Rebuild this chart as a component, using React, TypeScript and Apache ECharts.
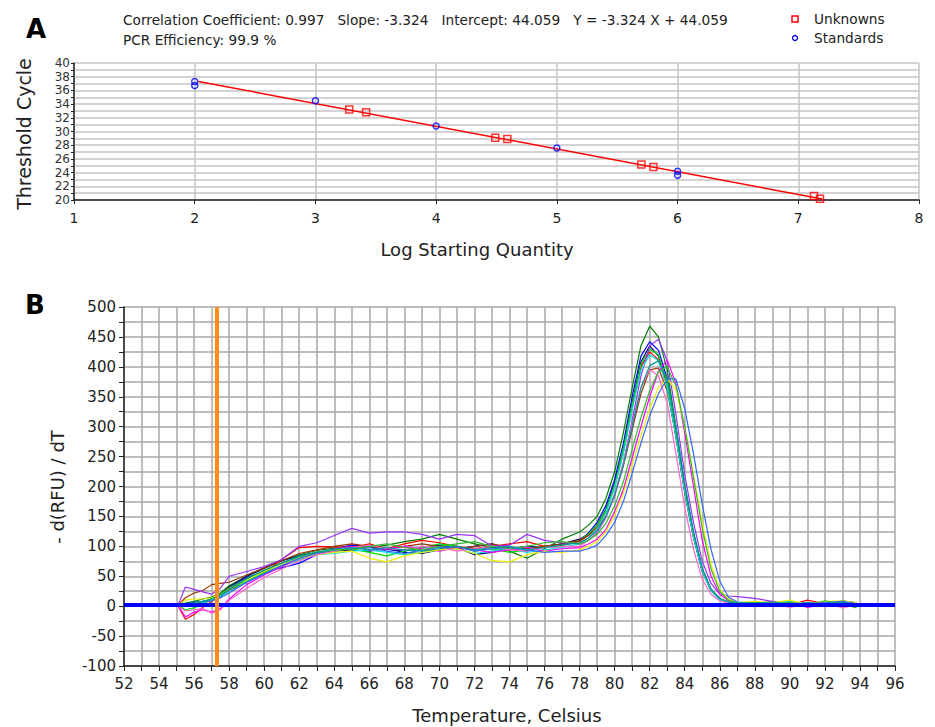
import React, { useEffect, useRef } from "react";
import * as echarts from "echarts";

// ---------- Panel A: standard curve ----------
const stdX = [2, 2, 3, 4, 5, 6, 6];
const stdY = [37.3, 36.7, 34.5, 30.8, 27.6, 24.2, 23.6];
const unkX = [3.28, 3.42, 4.49, 4.59, 5.7, 5.8, 7.13, 7.18];
const unkY = [33.2, 32.8, 29.1, 28.9, 25.2, 24.8, 20.6, 20.2];
const fitX = [2.03, 7.2];
const fitY = [37.31, 20.13];
const headerLine1 = "Correlation Coefficient: 0.997   Slope: -3.324   Intercept: 44.059   Y = -3.324 X + 44.059";
const headerLine2 = "PCR Efficiency: 99.9 %";

// ---------- Panel B: melt curves ----------
const temps = [
  55.1, 55.5, 56, 56.5, 57, 57.5, 58,
  59, 60, 61, 62, 63, 64, 65, 66, 67, 68, 69, 70, 71, 72, 73, 74, 75, 76, 77,
  78, 78.5, 79, 79.5, 80, 80.5, 81, 81.5, 82, 82.5, 83, 83.5, 84, 84.5, 85, 85.5, 86, 86.5, 87,
  88, 89, 90, 91, 92, 93, 93.8,
];

const darkGreen = [
  3, 5, 8, 12, 15, 22, 34,
  50, 63, 76, 86, 93, 97, 100, 98, 102, 108, 112, 120, 112, 104, 98, 92, 80, 96, 112,
  124, 135, 150, 180, 225, 290, 365, 435, 468, 450, 395, 300, 200, 122, 62, 28, 12, 7, 5,
  6, 3, 5, 2, 8, 4, -2,
];
const blue = [
  2, 4, 6, 8, 10, 14, 30,
  48, 58, 64, 72, 86, 96, 102, 100, 95, 92, 98, 102, 96, 100, 104, 96, 92, 100, 104,
  110, 122, 140, 168, 212, 272, 350, 418, 442, 428, 380, 295, 200, 120, 60, 27, 12, 6, 4,
  4, 6, 2, 5, 3, 8, 6,
];
const navy = [
  0, 2, 3, 6, 12, 20, 32,
  50, 64, 76, 84, 90, 92, 94, 92, 96, 90, 88, 94, 98, 86, 90, 96, 100, 98, 104,
  112, 120, 136, 162, 205, 262, 338, 408, 435, 418, 370, 285, 190, 115, 58, 26, 11, 6, 5,
  5, 3, 7, 4, 2, 9, 5,
];
const red = [
  0, -22, -14, -2, 8, 18, 26,
  40, 55, 78, 98, 100, 99, 98, 104, 96, 104, 110, 106, 100, 96, 100, 104, 108, 100, 102,
  108, 118, 132, 158, 200, 258, 332, 400, 425, 412, 368, 282, 190, 116, 58, 26, 12, 6, 4,
  3, 8, 2, 10, 4, 2, 6,
];
const lime = [
  1, -6, -3, 4, 10, 18, 28,
  42, 56, 68, 78, 86, 92, 96, 90, 84, 92, 98, 104, 100, 92, 96, 90, 94, 100, 102,
  110, 120, 136, 160, 202, 262, 336, 404, 430, 420, 374, 290, 196, 118, 60, 27, 12, 6, 4,
  5, 4, 6, 3, 7, 5, 1,
];
const brown = [
  2, 14, 22, 26, 36, 38, 40,
  52, 64, 76, 88, 94, 100, 104, 100, 96, 100, 104, 100, 96, 100, 104, 98, 96, 100, 104,
  110, 118, 130, 150, 185, 235, 295, 355, 395, 398, 360, 285, 195, 118, 60, 27, 12, 7, 5,
  4, 6, 3, 5, 2, 6, 4,
];
const purple = [
  3, 32, 28, 24, 20, 30, 50,
  58, 66, 78, 100, 106, 118, 130, 122, 124, 124, 120, 112, 120, 118, 100, 102, 120, 110, 106,
  104, 110, 122, 148, 185, 240, 310, 385, 435, 446, 410, 320, 220, 140, 75, 38, 20, 17, 16,
  13, 8, 6, 4, 5, 3, 2,
];
const cyan = [
  0, 2, 4, 6, 10, 16, 24,
  40, 54, 66, 78, 86, 88, 92, 94, 90, 86, 90, 94, 96, 88, 92, 96, 90, 94, 98,
  104, 114, 130, 156, 198, 255, 328, 394, 420, 410, 365, 282, 190, 115, 58, 26, 11, 6, 4,
  3, 5, 8, 2, 4, 6, 3,
];
const magenta = [
  0, -18, -10, -6, -10, -4, 12,
  36, 52, 66, 80, 88, 96, 100, 94, 96, 100, 96, 92, 98, 94, 90, 94, 98, 92, 96,
  98, 104, 112, 128, 158, 195, 248, 300, 350, 392, 412, 372, 290, 200, 110, 50, 20, 9, 5,
  4, 2, 6, -2, 3, 5, 1,
];
const yellow = [
  2, 10, 12, 12, 14, 20, 30,
  44, 58, 70, 80, 86, 90, 92, 80, 74, 84, 90, 94, 96, 88, 76, 74, 86, 92, 90,
  94, 100, 108, 124, 152, 188, 236, 285, 330, 365, 380, 362, 300, 220, 140, 70, 28, 12, 6,
  8, 6, 10, 3, 8, 9, 6,
];
const pink = [
  0, -8, -6, -4, -12, -6, 10,
  30, 48, 62, 76, 86, 92, 98, 102, 96, 94, 100, 98, 92, 96, 100, 94, 92, 98, 100,
  100, 110, 124, 148, 188, 240, 305, 365, 395, 385, 340, 255, 165, 95, 45, 20, 9, 5, 3,
  2, 5, -2, 4, 6, -3, 2,
];
const blue2 = [
  1, 3, 5, 7, 9, 14, 22,
  40, 54, 68, 80, 88, 94, 96, 98, 92, 88, 94, 98, 100, 92, 96, 98, 94, 90, 92,
  92, 96, 102, 118, 140, 175, 222, 272, 318, 355, 380, 380, 330, 255, 170, 95, 42, 15, 7,
  4, 2, 5, 3, 6, 8, 4,
];
const green2 = [
  2, 0, 4, 8, 12, 20, 30,
  46, 60, 72, 82, 90, 94, 96, 100, 104, 98, 94, 100, 104, 108, 100, 96, 100, 106, 108,
  104, 110, 120, 138, 168, 208, 262, 315, 360, 392, 400, 368, 300, 215, 130, 62, 25, 10, 5,
  6, 3, 7, 2, 9, 4, -3,
];
const teal = [
  1, 4, 6, 8, 12, 18, 28,
  46, 60, 72, 84, 90, 96, 98, 94, 98, 94, 92, 96, 100, 94, 98, 100, 94, 98, 102,
  106, 114, 126, 150, 186, 236, 300, 365, 402, 410, 380, 300, 205, 125, 64, 29, 13, 7, 5,
  5, 7, 3, 6, 4, 7, 3,
];

const curves = [darkGreen, blue, navy, red, lime, brown, purple, cyan, magenta, yellow, pink, blue2, green2, teal];
const curveColors = [
  "#008000", "#0000ff", "#000080", "#ff0000", "#00e000", "#993300", "#9933ff",
  "#00e0e0", "#ff00ff", "#f0f000", "#ff66cc", "#3366ff", "#33bb33", "#009999",
];
const baselineValue = 2;
const thresholdTemp = 57.3;

const FONT = "DejaVu Sans";

export default function App() {
  const ref = useRef<HTMLDivElement>(null);
  useEffect(() => {
    if (!ref.current) return;
    const chart = echarts.init(ref.current, null, { renderer: "svg" });

    const lineSeries: any[] = curves.map((vals, ci) => ({
      type: "line",
      xAxisIndex: 1,
      yAxisIndex: 1,
      symbol: "none",
      silent: true,
      z: 3,
      lineStyle: { color: curveColors[ci], width: 1.2 },
      data: temps.map((t, i) => [t, vals[i]]),
    }));

    lineSeries.push({
      type: "line",
      xAxisIndex: 1,
      yAxisIndex: 1,
      symbol: "none",
      data: [],
      markLine: {
        silent: true,
        symbol: "none",
        label: { show: false },
        animation: false,
        data: [
          { yAxis: baselineValue, lineStyle: { color: "#0000ff", width: 4, type: "solid" } },
          { xAxis: thresholdTemp, lineStyle: { color: "#ff8c1a", width: 4, type: "solid" } },
        ],
      },
      z: 5,
    });

    const option: any = {
      animation: false,
      backgroundColor: "#ffffff",
      textStyle: { fontFamily: FONT },
      grid: [
        { left: 74, top: 63, width: 845, height: 137 },
        { left: 124, top: 307, width: 771, height: 359 },
      ],
      xAxis: [
        {
          type: "value",
          gridIndex: 0,
          min: 1,
          max: 8,
          interval: 1,
          axisLine: { show: true, onZero: false, lineStyle: { color: "#222", width: 1.5 } },
          axisTick: { show: true, length: 4, lineStyle: { color: "#222" } },
          axisLabel: { color: "#222", fontSize: 14, fontFamily: FONT, margin: 11, showMinLabel: true, showMaxLabel: true },
          splitLine: { show: true, lineStyle: { color: "#c4c4c4", width: 1.5 } },
        },
        {
          type: "value",
          gridIndex: 1,
          min: 52,
          max: 96,
          interval: 1,
          axisLine: { show: true, onZero: false, lineStyle: { color: "#222", width: 1.5 } },
          axisTick: { show: true, length: 5, lineStyle: { color: "#222" } },
          axisLabel: {
            color: "#222",
            fontSize: 15,
            fontFamily: FONT,
            margin: 10,
            showMinLabel: true,
            showMaxLabel: true,
            formatter: (v: number) => (v % 2 === 0 ? String(v) : ""),
          },
          splitLine: { show: true, lineStyle: { color: "#a8a8a8", width: 1.5 } },
        },
      ],
      yAxis: [
        {
          type: "value",
          gridIndex: 0,
          min: 20,
          max: 40,
          interval: 1,
          axisLine: { show: true, onZero: false, lineStyle: { color: "#222", width: 1.5 } },
          axisTick: { show: true, length: 3, lineStyle: { color: "#222" } },
          axisLabel: {
            color: "#333",
            fontSize: 12,
            fontFamily: FONT,
            margin: 4,
            showMinLabel: true,
            showMaxLabel: true,
            formatter: (v: number) => (v % 2 === 0 ? String(v) : ""),
          },
          splitLine: { show: true, lineStyle: { color: "#c4c4c4", width: 1.5 } },
        },
        {
          type: "value",
          gridIndex: 1,
          min: -100,
          max: 500,
          interval: 25,
          axisLine: { show: true, onZero: false, lineStyle: { color: "#222", width: 1.5 } },
          axisTick: { show: true, length: 5, lineStyle: { color: "#222" } },
          axisLabel: {
            color: "#222",
            fontSize: 15,
            fontFamily: FONT,
            margin: 8,
            showMinLabel: true,
            showMaxLabel: true,
            formatter: (v: number) => (v % 50 === 0 ? String(v) : ""),
          },
          splitLine: { show: true, lineStyle: { color: "#a8a8a8", width: 1.5 } },
        },
      ],
      series: [
        {
          type: "line",
          name: "Fit",
          xAxisIndex: 0,
          yAxisIndex: 0,
          symbol: "none",
          silent: true,
          lineStyle: { color: "#ff0000", width: 1.5 },
          data: fitX.map((x, i) => [x, fitY[i]]),
          z: 3,
        },
        {
          type: "scatter",
          name: "Unknowns",
          xAxisIndex: 0,
          yAxisIndex: 0,
          symbol: "rect",
          symbolSize: 7,
          itemStyle: { color: "rgba(255,255,255,0)", borderColor: "#ff0000", borderWidth: 1.5 },
          data: unkX.map((x, i) => [x, unkY[i]]),
          z: 4,
        },
        {
          type: "scatter",
          name: "Standards",
          xAxisIndex: 0,
          yAxisIndex: 0,
          symbol: "circle",
          symbolSize: 6,
          itemStyle: { color: "rgba(255,255,255,0)", borderColor: "#0000ff", borderWidth: 1.5 },
          data: stdX.map((x, i) => [x, stdY[i]]),
          z: 4,
        },
        ...lineSeries,
      ],
      graphic: [
        { type: "text", left: 26, top: 16, style: { text: "A", font: `bold 26px ${FONT}`, fill: "#000" } },
        { type: "text", left: 25, top: 292, style: { text: "B", font: `bold 26px ${FONT}`, fill: "#000" } },
        { type: "text", x: 123, y: 20, style: { text: headerLine1, font: `13.7px ${FONT}`, fill: "#222", verticalAlign: "middle" } },
        { type: "text", x: 123, y: 40, style: { text: headerLine2, font: `13.7px ${FONT}`, fill: "#222", verticalAlign: "middle" } },
        { type: "rect", shape: { x: 792, y: 16, width: 6, height: 6 }, style: { fill: "none", stroke: "#ff0000", lineWidth: 1.5 } },
        { type: "circle", shape: { cx: 795, cy: 38, r: 2.5 }, style: { fill: "none", stroke: "#0000ff", lineWidth: 1.3 } },
        { type: "text", x: 814, y: 19, style: { text: "Unknowns", font: `13.7px ${FONT}`, fill: "#222", verticalAlign: "middle" } },
        { type: "text", x: 814, y: 38, style: { text: "Standards", font: `13.7px ${FONT}`, fill: "#222", verticalAlign: "middle" } },
        { type: "text", x: 24, y: 134, rotation: Math.PI / 2, style: { text: "Threshold Cycle", font: `19px ${FONT}`, fill: "#222", align: "center", verticalAlign: "middle" } },
        { type: "text", x: 477, y: 249, style: { text: "Log Starting Quantity", font: `18px ${FONT}`, fill: "#222", align: "center", verticalAlign: "middle" } },
        { type: "text", x: 57, y: 487, rotation: Math.PI / 2, style: { text: "- d(RFU) / dT", font: `18px ${FONT}`, fill: "#222", align: "center", verticalAlign: "middle" } },
        { type: "text", x: 507, y: 715, style: { text: "Temperature, Celsius", font: `18px ${FONT}`, fill: "#222", align: "center", verticalAlign: "middle" } },
      ],
    };
    chart.setOption(option);
    return () => chart.dispose();
  }, []);
  return <div ref={ref} style={{ width: 935, height: 727, position: "absolute", left: 0, top: 0, background: "#fff" }} />;
}
